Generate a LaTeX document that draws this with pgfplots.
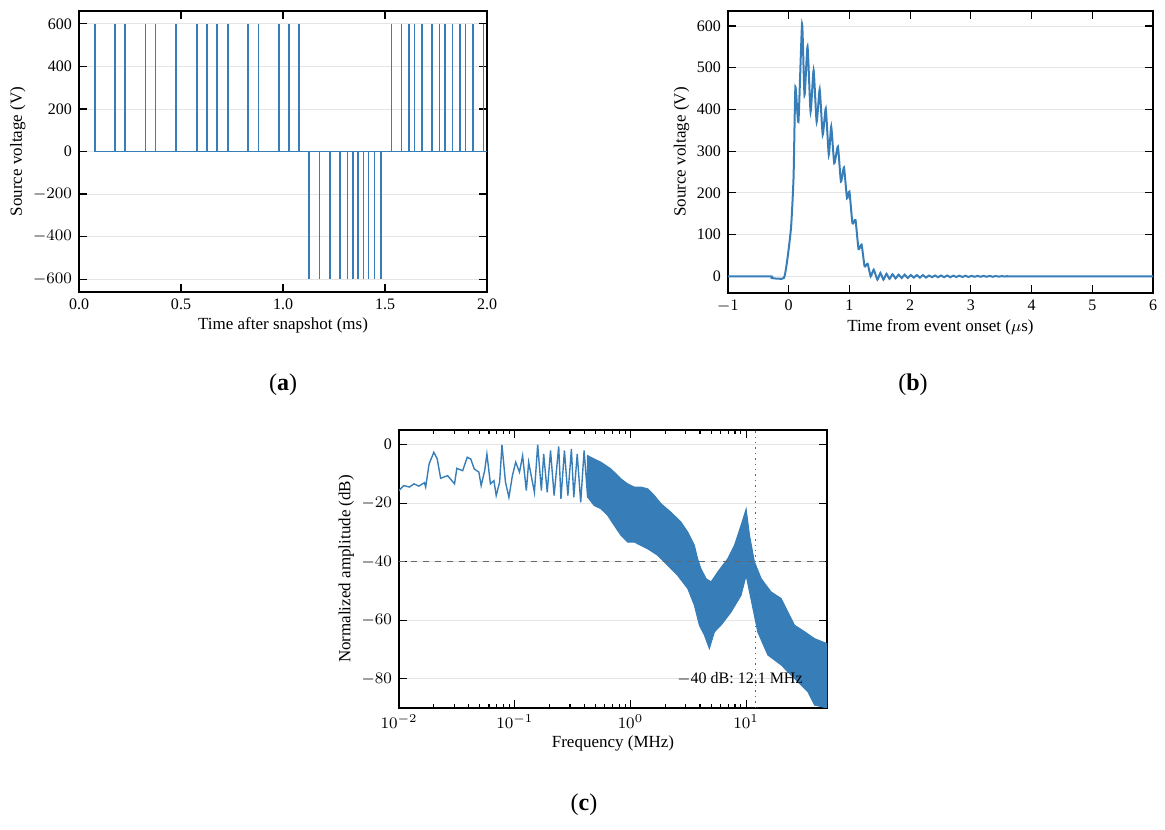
\documentclass[border=0pt]{standalone}
\usepackage{pgfplots}
\pgfplotsset{compat=1.18}
\usepackage{fontspec}
\setmainfont{Liberation Serif}
\definecolor{sb}{RGB}{55,126,184}
\pgfplotsset{every axis/.style={scale only axis, anchor=north west, tick align=inside, xtick pos=both, ytick pos=both,
  ymajorgrids, major grid style={gray!20, line width=0.4pt}, axis line style={line width=0.8pt},
  major tick length=4pt, minor tick length=2pt, tick style={black, line width=0.6pt},
  /pgf/number format/assume math mode=true,
  tick label style={font=\fontsize{8}{9}\selectfont}, label style={font=\fontsize{8.5}{10}\selectfont},
  xlabel style={yshift=3pt}, ylabel style={yshift=-3pt}}}
\begin{document}
\begin{tikzpicture}
\useasboundingbox (0,0) rectangle (582.5pt,-414.5pt);
% (a)
\begin{axis}[at={(39.5pt,-5.5pt)}, width=204pt, height=140.5pt, xmin=0, xmax=2, ymin=-660, ymax=660,
  xtick={0,0.5,1,1.5,2}, xticklabels={0.0,0.5,1.0,1.5,2.0}, ytick={-600,-400,-200,0,200,400,600},
  yticklabels={$-600$,$-400$,$-200$,0,200,400,600},
  xlabel={Time after snapshot (ms)}, ylabel={Source voltage (V)}]
\addplot[sb, line width=0.8pt] coordinates {(0.077,0) (2.0,0)};
\addplot[sb, line width=0.8pt, ycomb, mark=none] coordinates {
(0.077,600)(0.177,600)(0.226,600)(0.326,600)(0.375,600)(0.475,600)(0.577,600)(0.626,600)(0.677,600)(0.730,600)(0.828,600)(0.879,600)(0.979,600)(1.030,600)(1.079,600)
(1.128,-600)(1.179,-600)(1.231,-600)(1.280,-600)(1.316,-600)(1.343,-600)(1.369,-600)(1.395,-600)(1.420,-600)(1.448,-600)(1.480,-600)
(1.531,600)(1.580,600)(1.618,600)(1.644,600)(1.680,600)(1.731,600)(1.767,600)(1.793,600)(1.831,600)(1.869,600)(1.895,600)(1.931,600)(1.982,600)};
\end{axis}
% (b)
\begin{axis}[at={(364pt,-5.5pt)}, width=212.5pt, height=141pt, xmin=-1, xmax=6, ymin=-40, ymax=636,
  xtick={-1,0,...,6}, xticklabels={$-1$,0,1,2,3,4,5,6}, ytick={0,100,...,600},
  xlabel={Time from event onset ($\mu$s)}, ylabel={Source voltage (V)}]
\addplot[sb, line width=1pt, smooth, tension=0.3] coordinates {
(-1,0)(-0.30,0)(-0.28,-4)(-0.08,-4)(-0.016,48)(0.04,120)(0.08,239)(0.11,454)(0.16,370)(0.22,605)(0.26,434)(0.31,551)(0.36,394)(0.41,494)(0.46,370)(0.51,448)(0.56,339)(0.61,402)(0.66,291)(0.70,359)(0.75,271)(0.81,311)(0.86,227)(0.91,261)(0.96,187)(1.00,203)(1.05,127)(1.10,135)(1.15,65)(1.20,76)(1.25,24)(1.30,30)(1.35,0)
(1.40,16)(1.46,-8)(1.51,8)(1.56,-8)(1.61,6)(1.66,-6)(1.71,5)(1.76,-5)(1.81,4)(1.86,-4)(1.91,4)(1.96,-4)(2.01,3)(2.06,-3)(2.11,3)(2.16,-3)(2.21,3)(2.26,-3)(2.31,2)(2.36,-2)(2.41,2)(2.46,-2)(2.51,2)(2.56,-2)(2.61,2)(2.66,-2)(2.71,1.5)(2.76,-1.5)(2.81,1.5)(2.86,-1.5)(2.91,1.5)(2.96,-1.5)(3.01,1)(3.06,-1)(3.11,1)(3.16,-1)(3.21,1)(3.26,-1)(3.31,1)(3.36,-1)(3.41,0.7)(3.46,-0.7)(3.51,0.5)(3.56,-0.5)(3.61,0.3)(3.7,0)(6,0)};
\end{axis}
% (c)
\begin{axis}[at={(199.5pt,-215pt)}, width=214pt, height=139pt, xmode=log, xmin=0.01, xmax=50, ymin=-90, ymax=5,
  ytick={-80,-60,-40,-20,0}, yticklabels={$-80$,$-60$,$-40$,$-20$,0},
  xtick={0.01,0.1,1,10}, xticklabels={$10^{-2}$,$10^{-1}$,$10^{0}$,$10^{1}$},
  xlabel={Frequency (MHz)}, ylabel={Normalized amplitude (dB)}]
\addplot[sb, line width=0.7pt] coordinates {
(0.0100,-15.7)(0.01096,-14)(0.0123,-14.5)(0.0135,-13.4)(0.0148,-14.2)(0.0166,-13)(0.0170,-14.5)(0.0182,-6.6)(0.0200,-2.6)(0.0214,-4.9)(0.0229,-11.5)(0.0263,-10.6)(0.0302,-13.4)(0.0316,-8.1)(0.0355,-8.9)(0.0389,-4.3)(0.0417,-4.9)(0.0447,-8.3)(0.0490,-9.4)(0.0513,-14)(0.0550,-8.9)(0.0575,-3.2)(0.0617,-13.4)(0.0661,-12.3)(0.0692,-17.4)(0.0741,-12.8)(0.0776,-0.1)(0.0832,-12.8)(0.0891,-18)(0.0955,-10.6)(0.102,-6)(0.110,-9.4)(0.117,-3.8)(0.126,-15.7)(0.132,-6)(0.148,-16.3)(0.158,0)(0.170,-15.7)(0.178,-3.2)(0.191,-16.3)(0.204,-2)(0.219,-17.4)(0.240,-0.6)(0.251,-18.5)(0.269,-2)(0.288,-17.4)(0.309,-1.5)(0.324,-18)(0.347,-3.2)(0.372,-19.7)(0.398,-2)(0.427,-18)(0.427,-3.75)};
\addplot[sb, fill=sb, line width=0.5pt] coordinates {
(0.427,-3.75)(0.486,-4.9)(0.556,-6.0)(0.679,-8.3)(0.828,-11.7)(0.946,-13.4)(1.08,-14.5)(1.23,-14.5)(1.41,-15.1)(1.61,-17.4)(1.84,-20.2)(2.24,-23.1)(2.74,-26.5)(3.13,-29.9)(3.57,-34.4)(3.81,-39)(4.07,-42.4)(4.51,-45.8)(4.98,-46.9)(5.69,-43.5)(6.93,-39)(7.93,-34.4)(9.04,-27.6)(10.0,-22)(10.7,-31)(11.8,-40.1)(13.5,-45.8)(16.4,-50.3)(20.1,-52.6)(26.2,-61.7)(31.9,-63.9)(39.0,-66.3)(50,-68)
(50,-90)(39.0,-89)(34.1,-84.4)(26.2,-79.9)(20.1,-75.3)(15.4,-71.9)(12.6,-64)(11.0,-52.6)(10.0,-44.7)(9.04,-51.5)(7.41,-57.2)(6.07,-61.7)(5.32,-64)(4.81,-69.7)(4.36,-65.1)(3.94,-61.7)(3.57,-54.9)(3.13,-49.2)(2.56,-44.7)(2.10,-41.25)(1.72,-37.8)(1.41,-35.6)(1.08,-33.3)(0.946,-33.3)(0.828,-31)(0.725,-27.6)(0.636,-24.2)(0.556,-21.9)(0.486,-20.8)(0.427,-17.95)} -- cycle;
\addplot[gray!80!black, dashed, line width=0.7pt] coordinates {(0.01,-40)(50,-40)};
\addplot[gray!80!black, dotted, line width=0.7pt] coordinates {(12.1,-90)(12.1,5)};
\node[anchor=east, font=\fontsize{8}{9}\selectfont, inner sep=1pt] at (axis cs:32.3,-80) {$-$40 dB: 12.1 MHz};
\end{axis}
\node[font=\fontsize{12}{14}\selectfont] at (141.5pt,-192.5pt) {(\textbf{a})};
\node[font=\fontsize{12}{14}\selectfont] at (456.5pt,-192.5pt) {(\textbf{b})};
\node[font=\fontsize{12}{14}\selectfont] at (292pt,-402.5pt) {(\textbf{c})};
\end{tikzpicture}
\end{document}
